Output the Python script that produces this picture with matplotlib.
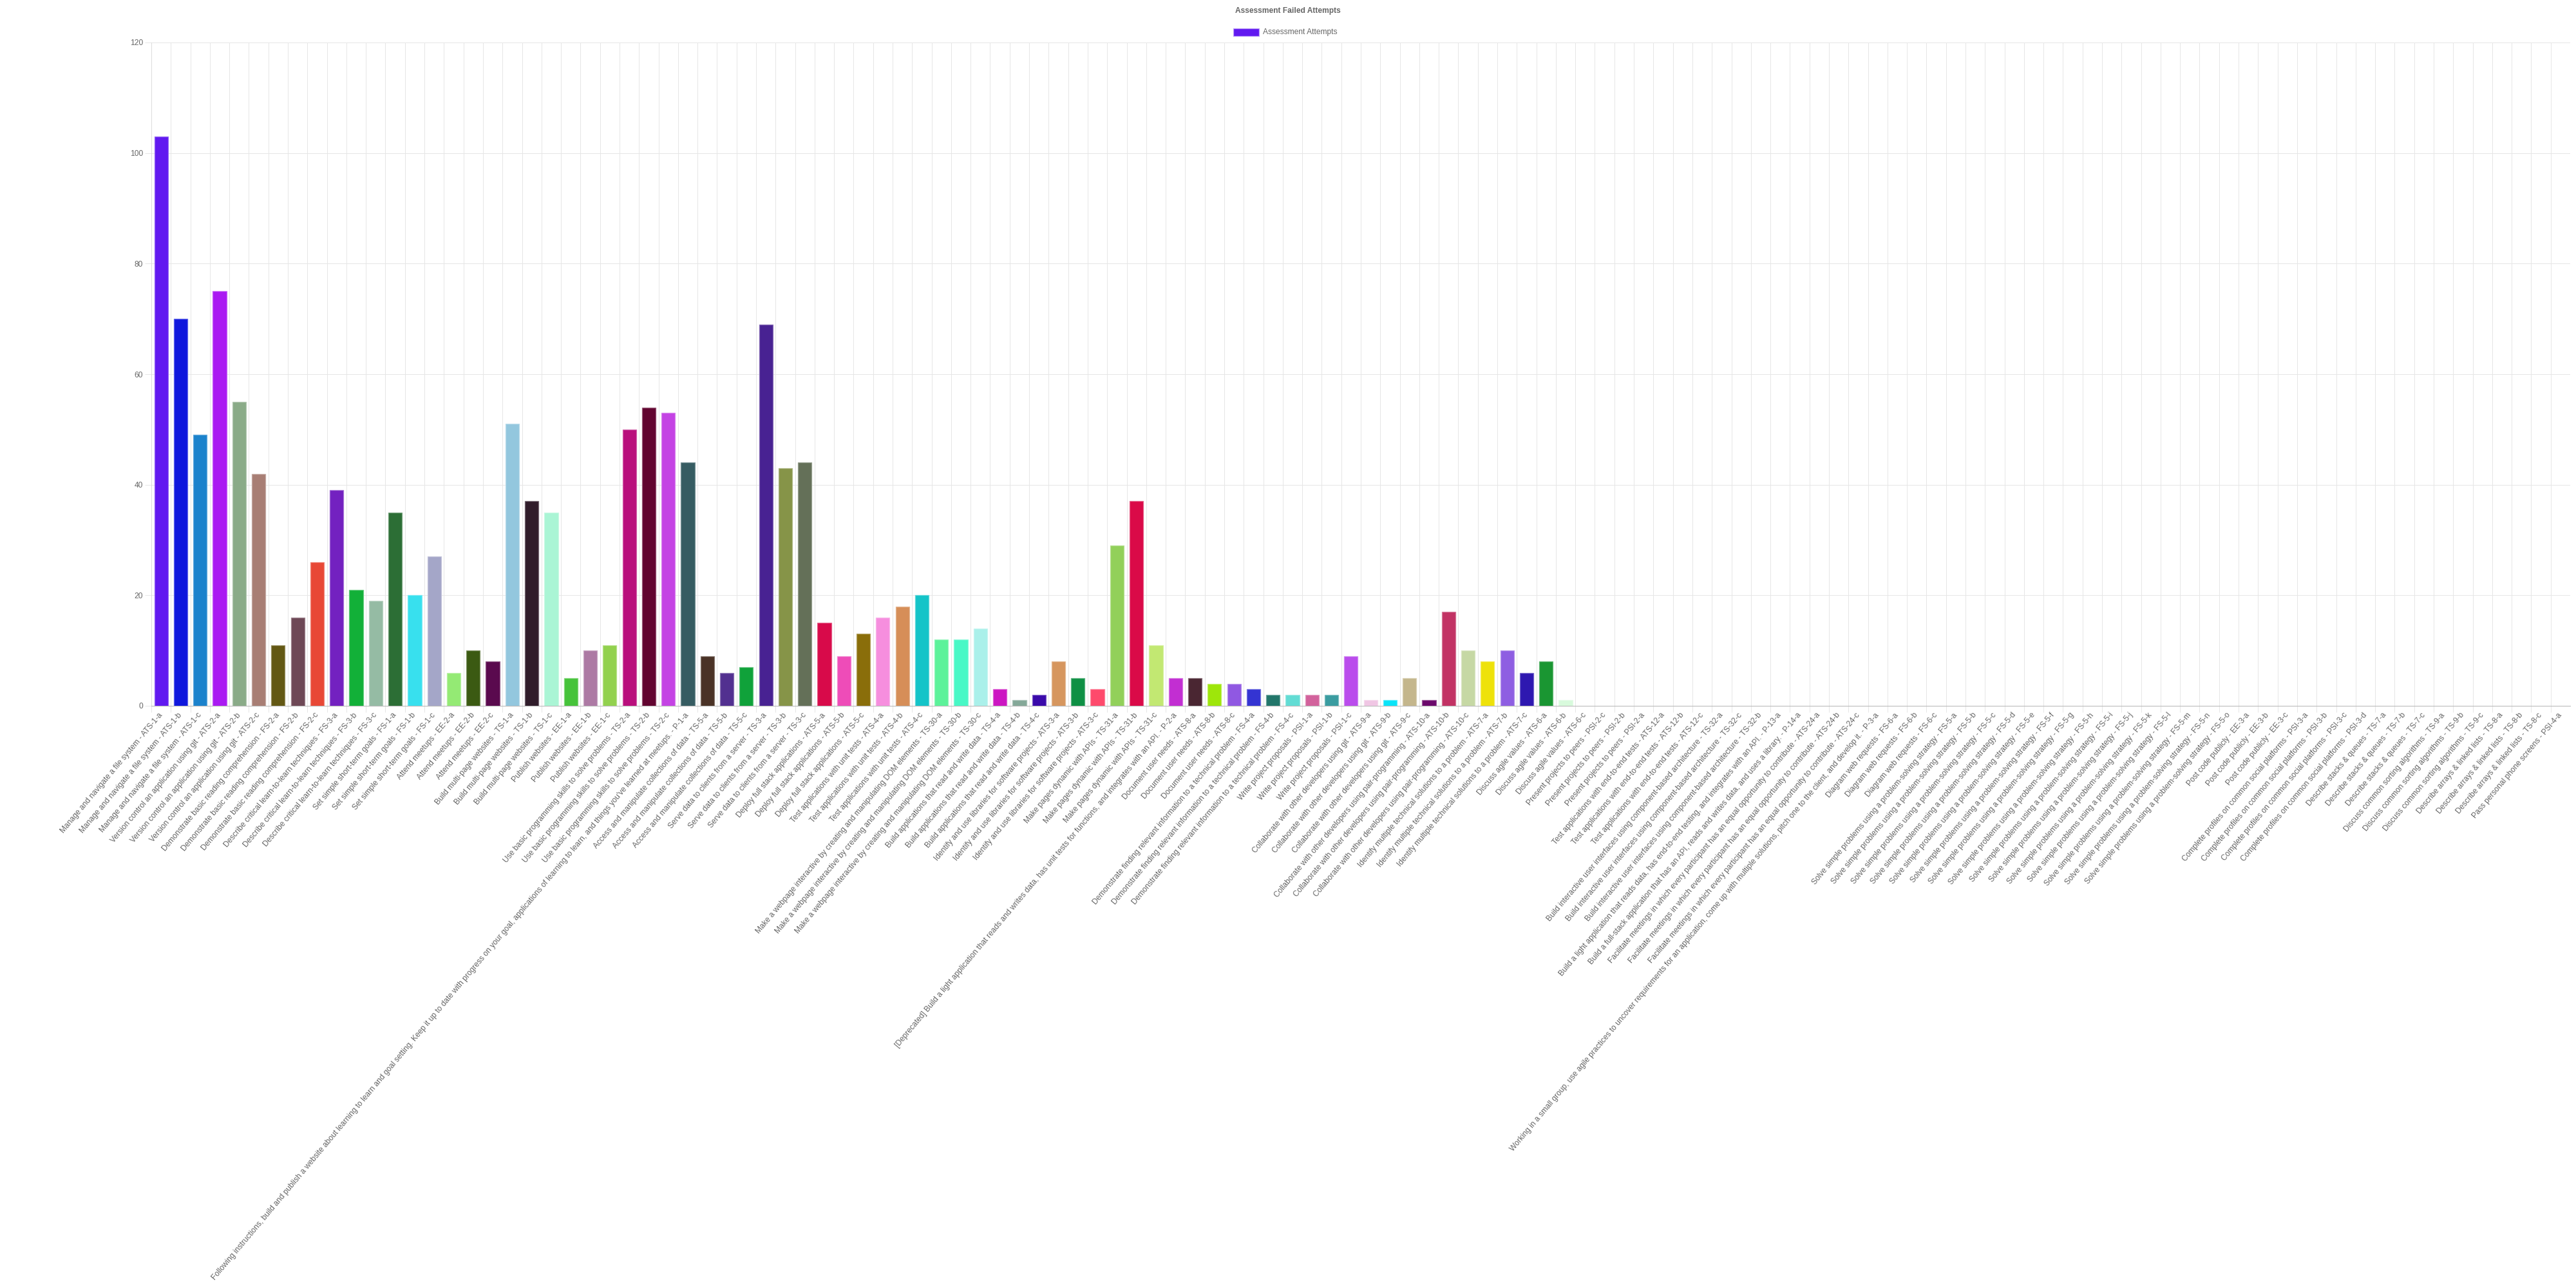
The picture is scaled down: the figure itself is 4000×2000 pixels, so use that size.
import numpy as np
import matplotlib
matplotlib.use("Agg")
import matplotlib.pyplot as plt
import matplotlib.colors as mcolors
from matplotlib.patches import Rectangle

# Skill groups in chart order: (skill name, code, suffixes in the order they appear)
P1_TEXT = ("Following instructions, build and publish a website about learning to learn and goal setting. "
           "Keep it up to date with progress on your goal, applications of learning to learn, "
           "and things you've learned at meetups.")
P2_TEXT = ("[Deprecated] Build a light application that reads and writes data, has unit tests for functions, "
           "and integrates with an API.")
P13_TEXT = "Build a light application that reads data, has end-to-end testing, and integrates with an API."
P14_TEXT = "Build a full-stack application that has an API, reads and writes data, and uses a library."
P3_TEXT = ("Working in a small group, use agile practices to uncover requirements for an application, "
           "come up with multiple solutions, pitch one to the client, and develop it.")

skill_groups = [
    ("Manage and navigate a file system", "ATS-1", "abc"),
    ("Version control an application using git", "ATS-2", "abc"),
    ("Demonstrate basic reading comprehension", "FS-2", "abc"),
    ("Describe critical learn-to-learn techniques", "FS-3", "abc"),
    ("Set simple short-term goals", "FS-1", "abc"),
    ("Attend meetups", "EE-2", "abc"),
    ("Build multi-page websites", "TS-1", "abc"),
    ("Publish websites", "EE-1", "abc"),
    ("Use basic programming skills to solve problems", "TS-2", "abc"),
    (P1_TEXT, "P-1", "a"),
    ("Access and manipulate collections of data", "TS-5", "abc"),
    ("Serve data to clients from a server", "TS-3", "abc"),
    ("Deploy full stack applications", "ATS-5", "abc"),
    ("Test applications with unit tests", "ATS-4", "abc"),
    ("Make a webpage interactive by creating and manipulating DOM elements", "TS-30", "abc"),
    ("Build applications that read and write data", "TS-4", "abc"),
    ("Identify and use libraries for software projects", "ATS-3", "abc"),
    ("Make pages dynamic with APIs", "TS-31", "abc"),
    (P2_TEXT, "P-2", "a"),
    ("Document user needs", "ATS-8", "abc"),
    ("Demonstrate finding relevant information to a technical problem", "FS-4", "abc"),
    ("Write project proposals", "PSI-1", "abc"),
    ("Collaborate with other developers using git", "ATS-9", "abc"),
    ("Collaborate with other developers using pair-programming", "ATS-10", "abc"),
    ("Identify multiple technical solutions to a problem", "ATS-7", "abc"),
    ("Discuss agile values", "ATS-6", "abc"),
    ("Present projects to peers", "PSI-2", "cba"),
    ("Test applications with end-to-end tests", "ATS-12", "abc"),
    ("Build interactive user interfaces using component-based architecture", "TS-32", "acb"),
    (P13_TEXT, "P-13", "a"),
    (P14_TEXT, "P-14", "a"),
    ("Facilitate meetings in which every participant has an equal opportunity to contribute", "ATS-24", "abc"),
    (P3_TEXT, "P-3", "a"),
    ("Diagram web requests", "FS-6", "abc"),
    ("Solve simple problems using a problem-solving strategy", "FS-5", "abcdefghijklmno"),
    ("Post code publicly", "EE-3", "abc"),
    ("Complete profiles on common social platforms", "PSI-3", "abcd"),
    ("Describe stacks & queues", "TS-7", "abc"),
    ("Discuss common sorting algorithms", "TS-9", "abc"),
    ("Describe arrays & linked lists", "TS-8", "abc"),
    ("Pass personal phone screens", "PSI-4", "a"),
]

failed_attempts = [
    103, 70, 49, 75, 55, 42, 11, 16, 26, 39, 21, 19, 35, 20, 27, 6, 10, 8,
    51, 37, 35, 5, 10, 11, 50, 54, 53, 44, 9, 6, 7, 69, 43, 44, 15, 9, 13,
    16, 18, 20, 12, 12, 14, 3, 1, 2, 8, 5, 3, 29, 37, 11, 5, 5, 4, 4,
    3, 2, 2, 2, 2, 9, 1, 1, 5, 1, 17, 10, 8, 10, 6, 8, 1, 0,
    0, 0, 0, 0, 0, 0, 0, 0, 0, 0, 0, 0, 0, 0, 0, 0, 0, 0, 0, 0,
    0, 0, 0, 0, 0, 0, 0, 0, 0, 0, 0, 0, 0, 0, 0, 0, 0, 0, 0, 0,
    0, 0, 0, 0, 0, 0, 0, 0, 0, 0,
]

bar_colors = [
    "#6119f0", "#0f17dd", "#1b82cc", "#aa1af2", "#8aab88", "#a87e74",
    "#635814", "#6e4856", "#e84836", "#7321c0", "#12b038", "#95bba4",
    "#2c6e35", "#38e0ee", "#a4a6c8", "#94ea74", "#3b5a12", "#5a0a4e",
    "#93c7de", "#301c2a", "#aaf5d5", "#46c33a", "#ad7aa4", "#92d14e",
    "#b90e7c", "#620530", "#c443e4", "#365c62", "#4a3226", "#523090",
    "#10a23a", "#482292", "#869448", "#647058", "#d80a4a", "#ee4cb8",
    "#8a6e0a", "#f68ede", "#d68e58", "#14c4c8", "#5cf29a", "#48f8c6",
    "#aaf0ea", "#cc16c2", "#84a898", "#3a0aaa", "#d6965e", "#0e9044",
    "#fe4a6c", "#92d05a", "#da0a48", "#c2e872", "#c22ed2", "#4a2632",
    "#9ee60a", "#9058e2", "#3434d2", "#22766a", "#62dcd4", "#d2629c",
    "#3a9ca0", "#ba4cec", "#f0c6e4", "#0ae4f8", "#c4b68c", "#6c0a6c",
    "#c23264", "#c6d8a4", "#eee20a", "#8e5ee2", "#2e18b0", "#1a9632",
    "#d8fadc",
]

labels = [f"{name} - {code}-{s}" for name, code, sfx in skill_groups for s in sfx]
n = len(labels)
colors = bar_colors + ["#cccccc"] * (n - len(bar_colors))


def lighten(c, amt=0.35):
    r, g, b = mcolors.to_rgb(c)
    return (r + (1 - r) * amt, g + (1 - g) * amt, b + (1 - b) * amt)


edges = [lighten(c) if v > 0 else "none" for c, v in zip(colors, failed_attempts)]

plt.rcParams['font.family'] = ['Liberation Sans', 'DejaVu Sans']
TXT = "#666666"
GRID = "#e6e6e6"
FS = 8.64  # 12px at 100 dpi

W, H = 4000, 2000
fig = plt.figure(figsize=(W / 100, H / 100), dpi=100)
ax = fig.add_axes([235 / W, 1 - 1096 / H, (3991 - 235) / W, (1096 - 66) / H])

x = np.arange(n)
ax.bar(x, failed_attempts, width=0.7, color=colors, edgecolor=edges, linewidth=0.9, zorder=3)

ax.set_xlim(-0.5, n - 0.5)
ax.set_ylim(0, 120)
ax.set_yticks(range(0, 121, 20))

# category labels at centres, grid lines on the boundaries
ax.set_xticks(x)
ax.set_xticklabels(labels, rotation=50, ha="right", va="center", rotation_mode="anchor",
                   fontsize=FS, color=TXT)
ax.tick_params(axis="x", which="major", length=0, pad=9)
ax.set_xticks(np.arange(-0.5, n - 1), minor=True)
ax.tick_params(axis="x", which="minor", length=7.2, width=0.72, color=GRID)
ax.grid(axis="x", which="minor", color=GRID, linewidth=0.72, zorder=0)

ax.tick_params(axis="y", length=7.2, width=0.72, color=GRID, pad=2, labelsize=FS, labelcolor=TXT)
ax.grid(axis="y", which="major", color=GRID, linewidth=0.72, zorder=0)

for side in ["top", "right"]:
    ax.spines[side].set_visible(False)
ax.spines["bottom"].set_color("#b5b5b5")
ax.spines["bottom"].set_linewidth(0.72)
ax.spines["left"].set_color("#dcdcdc")
ax.spines["left"].set_linewidth(0.72)

# title + legend, centred on the canvas like the original
fig.text(0.5, 1 - 17 / H, "Assessment Failed Attempts", ha="center", va="center",
         fontsize=FS, fontweight="bold", color=TXT)
fig.add_artist(Rectangle((1915 / W, 1 - 56 / H), 40 / W, 12 / H, transform=fig.transFigure,
                         facecolor=colors[0], edgecolor=lighten(colors[0], 0.6), linewidth=0.9))
fig.text(1961 / W, 1 - 50 / H, "Assessment Attempts", ha="left", va="center",
         fontsize=FS, color=TXT)

fig.savefig("out.png", dpi=100)
